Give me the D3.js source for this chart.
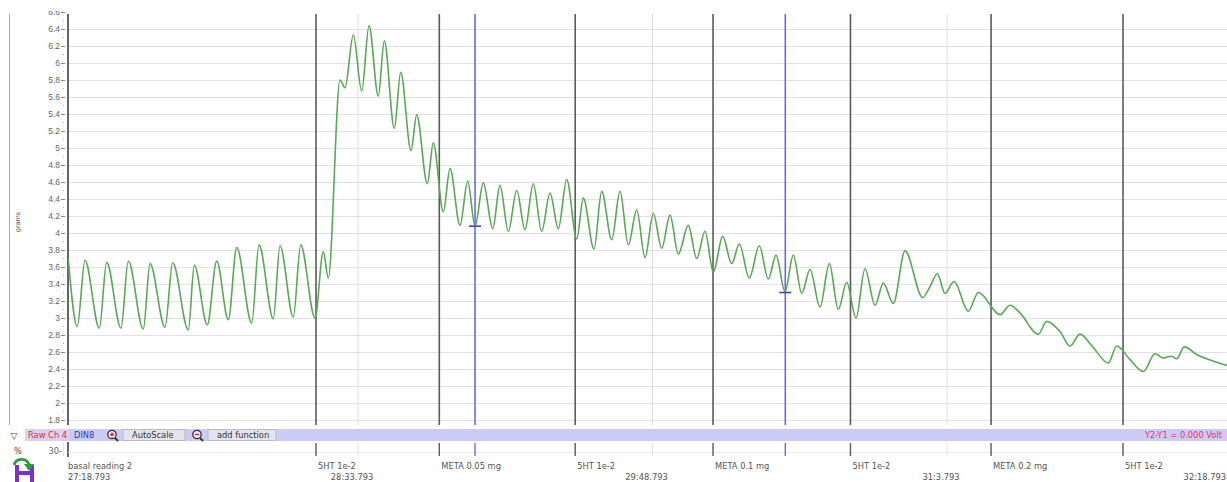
<!DOCTYPE html>
<html>
<head>
<meta charset="utf-8">
<script src="https://cdn.jsdelivr.net/npm/d3@7"></script>
<style>
  html, body { margin: 0; padding: 0; background: #fff; }
  svg { display: block; font-family: 'DejaVu Sans', sans-serif; }
</style>
</head>
<body>
<div id="chart"></div>
<script>
// trace turning points, seconds after 27:18.793 and grams
const traceTime = [
  1.2, 3.51, 5.47, 9.12, 11.0, 14.64, 16.5, 20.32, 22.03, 25.85, 27.81, 31.78, 33.31, 36.62,
  39.01, 41.97, 44.11, 47.93, 49.78, 53.43, 55.13, 58.52, 60.4, 64.04, 66.16, 67.43, 70.41,
  71.68, 73.8, 75.94, 77.8, 80.16, 81.69, 84.24, 85.87, 88.49, 89.94, 92.64, 94.17, 96.72,
  98.42, 100.97, 102.93, 104.79, 106.9, 109.3, 111.15, 113.27, 115.41, 117.52, 119.63,
  121.77, 123.89, 126.0, 128.14, 130.69, 132.37, 135.09, 137.05, 139.6, 141.71, 143.83,
  145.97, 148.08, 150.19, 152.33, 154.45, 156.56, 159.1, 161.24, 163.36, 165.47, 167.87,
  170.16, 172.09, 174.64, 177.18, 179.48, 181.44, 183.73, 185.84, 187.98, 190.1, 192.64,
  195.01, 197.3, 199.44, 201.81, 204.1, 206.65, 208.76, 211.31, 214.29, 218.79, 220.65,
  222.51, 224.47, 226.77, 230.41, 232.95, 238.48, 241.03, 243.57, 248.23, 250.37, 253.76,
  256.31, 258.85, 261.91, 266.06, 268.2, 271.59, 274.97, 277.95, 280.06, 282.2, 283.48,
  285.41, 288.57, 293.66, 296.28
];
const traceGrams = [
  3.70, 2.90, 3.68, 2.88, 3.655, 2.88, 3.67, 2.87, 3.64, 2.89, 3.65, 2.86, 3.62, 2.92,
  3.67, 2.98, 3.83, 2.94, 3.86, 2.99, 3.85, 3.01, 3.86, 3.00, 3.78, 3.47, 5.80,
  5.71, 6.33, 5.67, 6.44, 5.61, 6.26, 5.23, 5.89, 4.97, 5.39, 4.58, 5.06, 4.25,
  4.76, 4.09, 4.61, 4.08, 4.59, 4.05, 4.56, 4.02, 4.50, 4.04, 4.58,
  4.02, 4.47, 4.05, 4.63, 3.93, 4.41, 3.81, 4.49, 3.92, 4.49, 3.86,
  4.27, 3.71, 4.23, 3.82, 4.21, 3.75, 4.09, 3.70, 4.02, 3.54, 3.96,
  3.64, 3.87, 3.47, 3.85, 3.46, 3.74, 3.31, 3.74, 3.29, 3.57, 3.13,
  3.64, 3.10, 3.42, 3.00, 3.58, 3.15, 3.41, 3.17, 3.79, 3.24, 3.37,
  3.52, 3.29, 3.43, 3.08, 3.30, 3.04, 3.15, 3.06, 2.81, 2.96, 2.84,
  2.67, 2.81, 2.67, 2.47, 2.67, 2.51, 2.37, 2.58, 2.53, 2.55, 2.52,
  2.66, 2.57, 2.48, 2.44
];

const eventTimes = [1.2, 64.3, 95.7, 130.3, 165.4, 200.4, 236.2, 269.8];
const eventLabels = ['basal reading 2', '5HT 1e-2', 'META 0.05 mg', '5HT 1e-2', 'META 0.1 mg', '5HT 1e-2', 'META 0.2 mg', '5HT 1e-2'];
const cursorTimes = [104.8, 183.8];
const cursorGrams = [4.08, 3.30];

const timeTicks = [0, 75, 150, 225, 300];
const timeLabels = ['27:18.793', '28:33.793', '29:48.793', '31:3.793', '32:18.793'];
const yTicks = [1.8, 2, 2.2, 2.4, 2.6, 2.8, 3, 3.2, 3.4, 3.6, 3.8, 4, 4.2, 4.4, 4.6, 4.8, 5, 5.2, 5.4, 5.6, 5.8, 6, 6.2, 6.4, 6.6];

const width = 1227;
const height = 482;
const plot = { left: 68, right: 1227, top: 14, bottom: 425 };

const x = d3.scaleLinear().domain([0, 300]).range([63.5, 1241.6]);
const y = d3.scaleLinear().domain([1.8, 6.6]).range([420, 12]);

const svg = d3
  .select('#chart')
  .append('svg')
  .attr('width', width)
  .attr('height', height);

const defs = svg.append('defs');
defs.append('clipPath').attr('id', 'plotClip')
  .append('rect')
  .attr('x', plot.left).attr('y', plot.top)
  .attr('width', plot.right - plot.left).attr('height', plot.bottom - plot.top);
defs.append('clipPath').attr('id', 'axisClip')
  .append('rect')
  .attr('x', 0).attr('y', 11)
  .attr('width', plot.left + 2).attr('height', plot.bottom - 11);

// left panel border
svg.append('line')
  .attr('x1', 9.5).attr('x2', 9.5)
  .attr('y1', plot.top).attr('y2', plot.bottom)
  .attr('stroke', '#a8a8a8');

svg.append('text')
  .attr('transform', 'translate(20,222) rotate(-90)')
  .attr('text-anchor', 'middle')
  .style('font-size', '6.5px')
  .attr('fill', '#555')
  .text('grams');

// grid
const grid = svg.append('g').attr('clip-path', 'url(#plotClip)');
grid.selectAll('line.h')
  .data(yTicks)
  .enter()
  .append('line')
  .attr('x1', plot.left).attr('x2', plot.right)
  .attr('y1', (d) => Math.round(y(d)) + 0.5).attr('y2', (d) => Math.round(y(d)) + 0.5)
  .attr('stroke', '#e2e2e2');
grid.selectAll('line.v')
  .data(timeTicks)
  .enter()
  .append('line')
  .attr('x1', (d) => x(d)).attr('x2', (d) => x(d))
  .attr('y1', plot.top).attr('y2', plot.bottom)
  .attr('stroke', '#dedede');

// y axis
const yAxis = d3.axisLeft(y)
  .tickValues(yTicks)
  .tickSize(4)
  .tickPadding(1)
  .tickFormat(d3.format('~g'));
const ya = svg.append('g')
  .attr('clip-path', 'url(#axisClip)')
  .append('g')
  .attr('transform', `translate(${plot.left - 3},0)`)
  .call(yAxis);
ya.select('.domain').remove();
ya.selectAll('line').attr('stroke', '#888');
ya.selectAll('text').attr('fill', '#666').style('font-size', '8.5px');

// minor ticks
svg.selectAll('line.minor')
  .data(yTicks.slice(0, -1))
  .enter()
  .append('line')
  .attr('x1', plot.left - 5).attr('x2', plot.left - 4)
  .attr('y1', (d) => y(d + 0.1)).attr('y2', (d) => y(d + 0.1))
  .attr('stroke', '#aaa');

svg.append('line')
  .attr('x1', plot.left).attr('x2', plot.left)
  .attr('y1', plot.top).attr('y2', plot.bottom)
  .attr('stroke', '#666')
  .attr('stroke-width', 2);

// event and cursor lines
const marks = svg.append('g').attr('clip-path', 'url(#plotClip)');
marks.selectAll('line.event')
  .data(eventTimes.slice(1))
  .enter()
  .append('line')
  .attr('x1', (d) => x(d)).attr('x2', (d) => x(d))
  .attr('y1', plot.top).attr('y2', plot.bottom)
  .attr('stroke', '#5a5a5a')
  .attr('stroke-width', 1.6);
marks.selectAll('line.cursor')
  .data(cursorTimes)
  .enter()
  .append('line')
  .attr('x1', (d) => x(d)).attr('x2', (d) => x(d))
  .attr('y1', plot.top).attr('y2', plot.bottom)
  .attr('stroke', '#6a6ae8')
  .attr('stroke-width', 1.6);

// trace
const points = traceTime.map((t, i) => [t, traceGrams[i]]);
const line = d3.line()
  .x((d) => x(d[0]))
  .y((d) => y(d[1]))
  .curve(d3.curveMonotoneX);
svg.append('path')
  .datum(points)
  .attr('clip-path', 'url(#plotClip)')
  .attr('d', line)
  .attr('fill', 'none')
  .attr('stroke', '#58a858')
  .attr('stroke-width', 1.6);

// cursor markers
svg.selectAll('line.cmark')
  .data(cursorTimes)
  .enter()
  .append('line')
  .attr('x1', (d) => x(d) - 6).attr('x2', (d) => x(d) + 6)
  .attr('y1', (d, i) => y(cursorGrams[i])).attr('y2', (d, i) => y(cursorGrams[i]))
  .attr('stroke', '#4040c0')
  .attr('stroke-width', 1.6);

// toolbar band
const bar = svg.append('g');
bar.append('rect')
  .attr('x', 25).attr('y', 429).attr('width', width - 25).attr('height', 12)
  .attr('fill', '#cbcbf6');
bar.append('rect')
  .attr('x', 25).attr('y', 429).attr('width', 44).attr('height', 12)
  .attr('fill', '#dcd0f0');
bar.append('text')
  .attr('x', 14).attr('y', 438.5)
  .attr('text-anchor', 'middle')
  .style('font-size', '9px')
  .attr('fill', '#333')
  .text('\u25BD');
bar.append('text')
  .attr('x', 28).attr('y', 438)
  .style('font-size', '8.3px')
  .attr('fill', '#e0303a')
  .text('Raw Ch 4');
bar.append('text')
  .attr('x', 74).attr('y', 438)
  .style('font-size', '8.3px')
  .attr('fill', '#3a3ab8')
  .text('DIN8');

const boxes = [
  { x: 123, w: 62, label: 'AutoScale' },
  { x: 208, w: 68, label: 'add function' },
];
bar.selectAll('rect.btn')
  .data(boxes)
  .enter()
  .append('rect')
  .attr('x', (d) => d.x).attr('y', 429.5)
  .attr('width', (d) => d.w).attr('height', 11)
  .attr('fill', '#e4e4ee')
  .attr('stroke', '#b8b8cc');
bar.selectAll('text.btn')
  .data(boxes)
  .enter()
  .append('text')
  .attr('x', (d) => d.x + 9).attr('y', 438)
  .style('font-size', '8.3px')
  .attr('fill', '#333')
  .text((d) => d.label);

[[112, true], [197, false]].forEach(([cx, plus]) => {
  const g = bar.append('g');
  g.append('line')
    .attr('x1', cx + 3).attr('y1', 438).attr('x2', cx + 6).attr('y2', 441)
    .attr('stroke', '#333').attr('stroke-width', 2);
  g.append('circle')
    .attr('cx', cx).attr('cy', 434.5).attr('r', 4.2)
    .attr('fill', '#f4e8e8').attr('stroke', '#333').attr('stroke-width', 1.3);
  g.append('line')
    .attr('x1', cx - 2).attr('x2', cx + 2).attr('y1', 434.5).attr('y2', 434.5)
    .attr('stroke', '#d02020').attr('stroke-width', 1.3);
  if (plus) {
    g.append('line')
      .attr('x1', cx).attr('x2', cx).attr('y1', 432.5).attr('y2', 436.5)
      .attr('stroke', '#d02020').attr('stroke-width', 1.3);
  }
});

bar.append('text')
  .attr('x', 1145).attr('y', 438)
  .style('font-size', '8.3px')
  .attr('fill', '#f0306a')
  .text('Y2-Y1 = 0.000 Volt');

// lower channel strip
const strip = svg.append('g');
strip.append('text')
  .attr('x', 14).attr('y', 454)
  .style('font-size', '8px')
  .attr('fill', '#444')
  .text('%');
strip.append('text')
  .attr('x', 62).attr('y', 454)
  .attr('text-anchor', 'end')
  .style('font-size', '8.3px')
  .attr('fill', '#666')
  .text('30-');
strip.append('line')
  .attr('x1', plot.left).attr('x2', plot.left).attr('y1', 442).attr('y2', 457)
  .attr('stroke', '#666').attr('stroke-width', 2);
strip.append('line')
  .attr('x1', plot.left).attr('x2', width).attr('y1', 452.5).attr('y2', 452.5)
  .attr('stroke', '#ececec');
strip.selectAll('line.et')
  .data(eventTimes.slice(1))
  .enter()
  .append('line')
  .attr('x1', (d) => x(d)).attr('x2', (d) => x(d))
  .attr('y1', 443).attr('y2', 456)
  .attr('stroke', '#5a5a5a').attr('stroke-width', 1.4);
strip.selectAll('line.ct')
  .data(cursorTimes)
  .enter()
  .append('line')
  .attr('x1', (d) => x(d)).attr('x2', (d) => x(d))
  .attr('y1', 443).attr('y2', 456)
  .attr('stroke', '#6a6ae8').attr('stroke-width', 1.4);
strip.selectAll('line.tt')
  .data(timeTicks)
  .enter()
  .append('line')
  .attr('x1', (d) => x(d)).attr('x2', (d) => x(d))
  .attr('y1', 443).attr('y2', 456)
  .attr('stroke', '#e2e2e2');

// bottom icon
const icon = svg.append('g');
icon.append('path')
  .attr('d', 'M15,465 h4 v6 h11 v-6 h4 v17 h-4 v-7 h-11 v7 h-4 z')
  .attr('fill', '#7a32c8');
icon.append('path')
  .attr('d', 'M14,465 C16,458 27,457 29,465')
  .attr('fill', 'none')
  .attr('stroke', '#2f9a3a')
  .attr('stroke-width', 2.8);
icon.append('path')
  .attr('d', 'M24,464 L34,464 L29,471 Z')
  .attr('fill', '#2f9a3a');

// event labels
svg.selectAll('text.event')
  .data(eventTimes)
  .enter()
  .append('text')
  .attr('x', (d, i) => (i === 0 ? plot.left : x(d) + 2))
  .attr('y', 469)
  .style('font-size', '8.3px')
  .attr('fill', '#555')
  .text((d, i) => eventLabels[i]);

// time labels, the last one kept inside the window
svg.selectAll('text.time')
  .data(timeTicks)
  .enter()
  .append('text')
  .attr('x', (d, i) => {
    if (i === 0) return plot.left;
    if (i === timeTicks.length - 1) return width - 1;
    return x(d) - 6;
  })
  .attr('y', 480)
  .attr('text-anchor', (d, i) => (i === 0 ? 'start' : i === timeTicks.length - 1 ? 'end' : 'middle'))
  .style('font-size', '8.3px')
  .attr('fill', '#555')
  .text((d, i) => timeLabels[i]);
</script>
</body>
</html>
